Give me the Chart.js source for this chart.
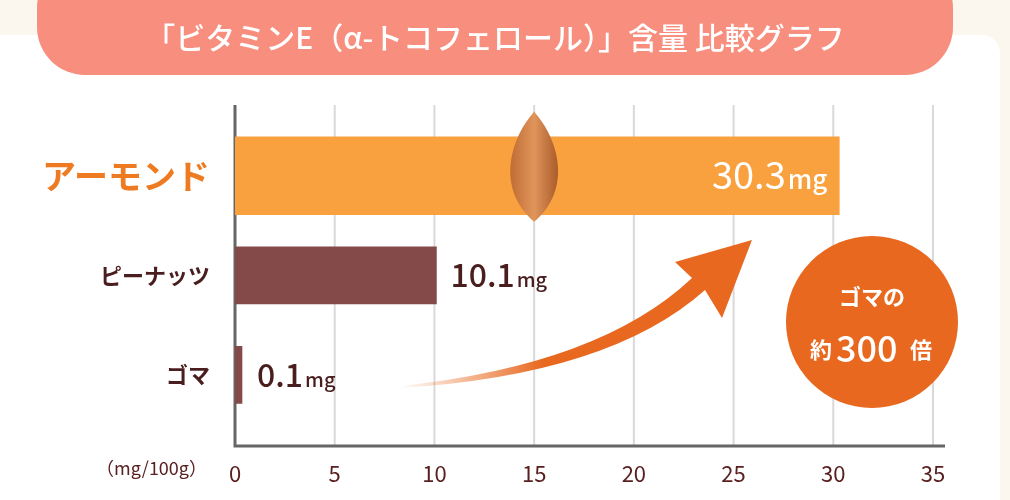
<!DOCTYPE html>
<html><head><meta charset="utf-8">
<script src="https://cdn.jsdelivr.net/npm/chart.js@4"></script>
<style>html,body{margin:0;padding:0;background:#fff}#w{width:1010px;height:500px}</style>
</head><body><div id="w"><canvas id="c"></canvas></div>
<script>
const categories = ['アーモンド', 'ピーナッツ', 'ゴマ'];
const values = [30.3, 10.1, 0.1];
const valueLabels = ['30.3', '10.1', '0.1'];
const xTicks = [0, 5, 10, 15, 20, 25, 30, 35];
const title = '「ビタミンE（α-トコフェロール）」含量 比較グラフ';
const unitLabel = '（mg/100g）';
const FONT = '"Noto Sans CJK JP","Noto Sans",sans-serif';

const deco = {
  id: 'deco',
  beforeDraw(ch) {
    const c = ch.ctx;
    c.save();
    c.fillStyle = '#fbf6ee'; c.fillRect(0, 0, 1010, 500);
    c.fillStyle = '#ffffff';
    c.beginPath(); c.roundRect(0, 35, 1000, 480, [0, 18, 0, 0]); c.fill();
    c.fillStyle = '#f78e7e';
    c.beginPath(); c.roundRect(37, -40, 916, 115, 48); c.fill();
    c.fillStyle = '#fff'; c.font = '500 30px ' + FONT; c.textAlign = 'center'; c.textBaseline = 'middle';
    c.fillText(title, 495, 38);
    const x = ch.scales.x;
    c.strokeStyle = '#d9d9d9'; c.lineWidth = 2;
    xTicks.forEach(v => { if (v === 0) return; const px = x.getPixelForValue(v); c.beginPath(); c.moveTo(px, 105); c.lineTo(px, 446); c.stroke(); });
    c.strokeStyle = '#666'; c.lineWidth = 3;
    const x0 = x.getPixelForValue(0);
    c.beginPath(); c.moveTo(x0, 105); c.lineTo(x0, 446); c.lineTo(x.getPixelForValue(35) + 12, 446); c.stroke();
    c.restore();
  },
  afterDatasetsDraw(ch) {
    const c = ch.ctx, x = ch.scales.x, y = ch.scales.y;
    c.save();
    c.textAlign = 'right'; c.textBaseline = 'middle';
    const ys = categories.map((_, i) => y.getPixelForValue(i));
    c.fillStyle = '#ee7a22'; c.font = '700 34px ' + FONT; c.fillText(categories[0], 210, ys[0]);
    c.fillStyle = '#4a1e1e'; c.font = '700 22px ' + FONT; c.fillText(categories[1], 210, ys[1]); c.fillText(categories[2], 210, ys[2]);
    c.fillStyle = '#5a2020'; c.font = '18px ' + FONT; c.textAlign = 'right'; c.fillText(unitLabel, 207, 468);
    const ax = x.getPixelForValue(15), ay = ys[0] - 6;
    const g = c.createLinearGradient(ax - 30, ay, ax + 30, ay);
    g.addColorStop(0, '#b8622a'); g.addColorStop(0.5, '#e0955a'); g.addColorStop(1, '#9c4d1e');
    c.fillStyle = g; c.beginPath();
    c.moveTo(ax, ay - 58);
    c.bezierCurveTo(ax + 25, ay - 30, ax + 38, ay + 20, ax, ay + 52);
    c.bezierCurveTo(ax - 38, ay + 20, ax - 25, ay - 30, ax, ay - 58); c.fill();
    c.textBaseline = 'alphabetic';
    values.forEach((v, i) => {
      const big = i === 0;
      const nf = (big ? '400 38px ' : '500 32px ') + FONT, mf = (big ? '500 26px ' : '500 20px ') + FONT;
      c.font = nf; const nw = c.measureText(valueLabels[i]).width;
      c.font = mf; const mw = c.measureText('mg').width;
      let sx = big ? x.getPixelForValue(v) - 14 - nw - mw : x.getPixelForValue(v) + 14;
      if (i === 2) sx = x.getPixelForValue(0) + 22;
      const by = ys[i] + (big ? 13 : 12);
      c.fillStyle = big ? '#fff' : '#4a1e1e';
      c.textAlign = 'left';
      c.font = nf; c.fillText(valueLabels[i], sx, by);
      c.font = mf; c.fillText('mg', sx + nw + 2, by);
    });
    const ag = c.createLinearGradient(400, 0, 760, 0);
    ag.addColorStop(0, 'rgba(232,104,31,0)'); ag.addColorStop(0.4, '#e8681f'); ag.addColorStop(1, '#e8681f');
    c.fillStyle = ag; c.beginPath();
    c.moveTo(400, 388);
    c.quadraticCurveTo(610, 375, 705, 290);
    c.lineTo(722, 318); c.lineTo(752, 240); c.lineTo(675, 262); c.lineTo(692, 278);
    c.quadraticCurveTo(600, 365, 400, 386); c.closePath(); c.fill();
    c.fillStyle = '#e8681f'; c.beginPath(); c.arc(872, 322, 86, 0, Math.PI * 2); c.fill();
    c.fillStyle = '#fff'; c.textAlign = 'center'; c.textBaseline = 'middle';
    c.font = '700 22px ' + FONT; c.fillText('ゴマの', 872, 297);
    c.textAlign = 'left'; c.fillText('約', 810, 350);
    c.font = '500 36px ' + FONT; c.fillText('300', 836, 348);
    c.font = '700 22px ' + FONT; c.fillText('倍', 910, 350);
    c.restore();
  }
};

new Chart(document.getElementById('c'), {
  type: 'bar',
  data: {
    labels: categories,
    datasets: [
      { data: [values[0], null, null], backgroundColor: '#f9a13e', barThickness: 78 },
      { data: [null, values[1], values[2]], backgroundColor: '#844a4a', barThickness: 57, minBarLength: 7 }
    ]
  },
  options: {
    indexAxis: 'y', responsive: true, maintainAspectRatio: false, animation: false,
    layout: { padding: { left: 227, right: 77, top: 126, bottom: -15 } },
    plugins: { legend: { display: false }, tooltip: { enabled: false } },
    scales: {
      x: {
        min: 0, max: 35, grid: { display: false }, border: { display: false },
        afterBuildTicks: s => { s.ticks = xTicks.map(v => ({ value: v })); },
        ticks: { color: '#5a2020', font: { size: 22, family: FONT }, padding: 28 }
      },
      y: { grid: { display: false }, border: { display: false }, ticks: { display: false } }
    },
    datasets: { bar: { grouped: false } }
  },
  plugins: [deco]
});
</script></body></html>
